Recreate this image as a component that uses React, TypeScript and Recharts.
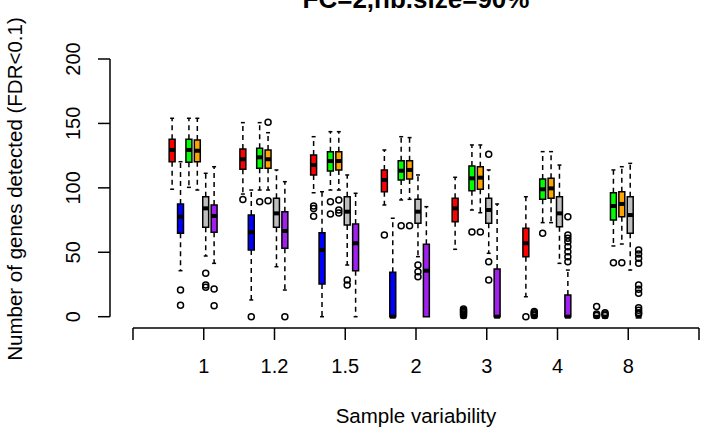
import { ComposedChart, XAxis, YAxis, Scatter, ReferenceArea, ReferenceLine } from 'recharts';

// sample variability levels (x groups)
const groupLabels = ['1', '1.2', '1.5', '2', '3', '4', '8'];
const xTicks = [0, 1, 2, 3, 4, 5, 6, 7, 8];
const yTicks = [0, 50, 100, 150, 200];

// one box per method: [lower whisker, q1, median, q3, upper whisker]
const redBoxes = [
	[98.9, 120.3, 129.4, 137.7, 154],
	[95.2, 114.4, 122.2, 130.2, 150.6],
	[96.2, 110, 117.7, 125.5, 139.7],
	[86.7, 97, 106.1, 113.9, 129.4],
	[52.3, 73.7, 84.1, 91.9, 108.2],
	[15.5, 46.6, 57, 68.6, 93.1],
	[0, 0, 0, 0, 0],
];
const redOutliers = [[], [91], [86, 84, 78], [63.4], [], [0], [8, 2, 1]];

const blueBoxes = [
	[35.7, 64.7, 77.6, 87.5, 120.3],
	[13, 51.8, 65.5, 78.9, 98.3],
	[0, 25.4, 51.8, 65.2, 97],
	[0, 0, 0, 34.5, 76.4],
	[0, 0, 0, 0, 0],
	[0, 0, 0, 0, 0],
	[0, 0, 0, 0, 0],
];
const blueOutliers = [[20.7, 8.8], [0], [], [], [1, 2, 3, 4, 5, 6], [1, 2, 3, 4], [1, 2, 3]];

const greenBoxes = [
	[100.4, 119.8, 129.4, 137.7, 154],
	[98.3, 115.2, 123.7, 130.7, 150.6],
	[98.3, 113.1, 120.8, 128.1, 143.6],
	[90.6, 106.1, 113.3, 121.1, 139.7],
	[82.8, 97.8, 107.4, 117, 133.3],
	[73, 91.1, 98.9, 106.9, 128.1],
	[54.9, 75, 85.9, 96.2, 113.9],
];
const greenOutliers = [[], [89.3], [89.3, 79.7], [70.6], [65.7], [64.7], [41.9]];

const orangeBoxes = [
	[98.3, 120.3, 128.8, 137.2, 154],
	[98.3, 115.2, 122.2, 129.4, 142.8],
	[98.3, 113.9, 120.8, 128.1, 143.6],
	[91.1, 106.9, 113.9, 121.1, 139],
	[80.7, 98.9, 107.9, 116.4, 133.3],
	[73, 91.9, 99.6, 107.4, 128.1],
	[56.4, 77.6, 87.5, 97, 116.4],
];
const orangeOutliers = [[], [150.9, 90], [90.6, 82.8, 80.5], [70.6], [65.7], [], [41.9]];

const grayBoxes = [
	[47.1, 69.4, 84.1, 93.1, 111.3],
	[38.8, 69.4, 80.2, 91.9, 113.9],
	[40.1, 71.2, 81.5, 93.1, 110],
	[46.6, 72.5, 81.5, 91.1, 110],
	[49.2, 72.5, 82.8, 91.9, 113.9],
	[41.4, 69.9, 80.2, 93.1, 117.7],
	[36.2, 64.7, 78.9, 93.1, 119],
];
const grayOutliers = [[33.7, 24.6, 22.8], [], [28.5, 24.6], [40.1, 34.9, 31], [126, 42.7, 28.5], [], []];

const purpleBoxes = [
	[41.4, 65.5, 78.2, 86.7, 116.4],
	[20.7, 53.1, 66.5, 81.5, 104.8],
	[0, 35.7, 57, 71.9, 95.8],
	[0, 0, 35.7, 56.2, 85.4],
	[0, 0, 0, 37, 87.5],
	[0, 0, 0, 16.8, 36.2],
	[0, 0, 0, 0, 0],
];
const purpleOutliers = [
	[21.5, 8.5],
	[0],
	[],
	[],
	[],
	[77.6, 63.4, 60.8, 58.2, 54.3, 50.4, 46.6, 42.7],
	[51.8, 48.7, 45.3, 41.4, 24.6, 21.3, 18.2, 7, 5, 3, 2],
];

const series = [
	{ name: 'red', color: '#FF0000', boxes: redBoxes, outliers: redOutliers },
	{ name: 'blue', color: '#0000FF', boxes: blueBoxes, outliers: blueOutliers },
	{ name: 'green', color: '#00FF00', boxes: greenBoxes, outliers: greenOutliers },
	{ name: 'orange', color: '#FFA500', boxes: orangeBoxes, outliers: orangeOutliers },
	{ name: 'gray', color: '#BEBEBE', boxes: grayBoxes, outliers: grayOutliers },
	{ name: 'purple', color: '#A020F0', boxes: purpleBoxes, outliers: purpleOutliers },
];

const FONT = '"Liberation Sans", Arial, Helvetica, sans-serif';
const X_MIN = -0.325;
const Y_MIN = -8.77;
const GROUP_SHIFT = -0.447;
const BOX_STEP = 0.1187;
const HALF_BOX = 0.042;
const HALF_STAPLE = 0.028;

const boxPos = (g: number, s: number) => g + 1 + GROUP_SHIFT + s * BOX_STEP;

const outlierData = series.map((s, si) =>
	s.outliers.flatMap((vals, g) => vals.map((v) => ({ x: boxPos(g, si), y: v }))),
);

const XTick = (props: any) => {
	const { x, y, payload } = props;
	const idx = payload.value - 1;
	const label = idx >= 0 && idx < groupLabels.length ? groupLabels[idx] : '';
	return (
		<text x={x} y={y + 31} textAnchor="middle" fontSize={20} fontFamily={FONT} fill="#000">
			{label}
		</text>
	);
};

const YTick = (props: any) => {
	const { x, y, payload } = props;
	const tx = x - 16;
	return (
		<text x={tx} y={y} transform={`rotate(-90, ${tx}, ${y})`} textAnchor="middle" fontSize={20} fontFamily={FONT} fill="#000">
			{payload.value}
		</text>
	);
};

const Ring = (props: any) => <circle cx={props.cx} cy={props.cy} r={3} fill="none" stroke="#000" strokeWidth={1.5} />;

function renderBoxes() {
	const els: any[] = [];
	series.forEach((s, si) => {
		s.boxes.forEach(([lo, q1, med, q3, hi], g) => {
			const p = boxPos(g, si);
			const k = `${s.name}-${g}`;
			if (hi > q3) {
				els.push(
					<ReferenceLine key={`${k}-uw`} segment={[{ x: p, y: q3 }, { x: p, y: hi }]} stroke="#000" strokeWidth={1.5} strokeDasharray="5 4" ifOverflow="visible" />,
					<ReferenceLine key={`${k}-us`} segment={[{ x: p - HALF_STAPLE, y: hi }, { x: p + HALF_STAPLE, y: hi }]} stroke="#000" strokeWidth={1.5} ifOverflow="visible" />,
				);
			}
			if (lo < q1) {
				els.push(
					<ReferenceLine key={`${k}-lw`} segment={[{ x: p, y: q1 }, { x: p, y: lo }]} stroke="#000" strokeWidth={1.5} strokeDasharray="5 4" ifOverflow="visible" />,
					<ReferenceLine key={`${k}-ls`} segment={[{ x: p - HALF_STAPLE, y: lo }, { x: p + HALF_STAPLE, y: lo }]} stroke="#000" strokeWidth={1.5} ifOverflow="visible" />,
				);
			}
			if (q3 > q1) {
				els.push(
					<ReferenceArea key={`${k}-box`} x1={p - HALF_BOX} x2={p + HALF_BOX} y1={q1} y2={q3} fill={s.color} fillOpacity={1} stroke="#000" strokeWidth={1.5} ifOverflow="visible" />,
				);
			}
			els.push(
				<ReferenceLine key={`${k}-med`} segment={[{ x: p - HALF_BOX, y: med }, { x: p + HALF_BOX, y: med }]} stroke="#000" strokeWidth={4} ifOverflow="visible" />,
			);
		});
	});
	return els;
}

export default function App() {
	return (
		<div style={{ position: 'absolute', left: 0, top: 0, width: 707, height: 427, background: '#fff' }}>
			<ComposedChart width={707} height={427} margin={{ top: 59, right: 8, bottom: 39, left: 50 }}>
				<XAxis
					type="number"
					dataKey="x"
					domain={[X_MIN, 8]}
					ticks={xTicks}
					interval={0}
					allowDataOverflow
					axisLine={false}
					tickLine={{ stroke: '#000', strokeWidth: 1.5 }}
					tickSize={12}
					tickMargin={2}
					height={60}
					tick={<XTick />}
				/>
				<YAxis
					type="number"
					dataKey="y"
					domain={[Y_MIN, 200]}
					ticks={yTicks}
					interval={0}
					allowDataOverflow
					axisLine={false}
					tickLine={{ stroke: '#000', strokeWidth: 1.5 }}
					tickSize={12}
					tickMargin={2}
					width={60}
					tick={<YTick />}
				/>
				<ReferenceLine segment={[{ x: 0, y: Y_MIN }, { x: 8, y: Y_MIN }]} stroke="#000" strokeWidth={1.5} ifOverflow="visible" />
				<ReferenceLine segment={[{ x: X_MIN, y: 0 }, { x: X_MIN, y: 200 }]} stroke="#000" strokeWidth={1.5} ifOverflow="visible" />
				{renderBoxes()}
				{outlierData.map((pts, i) => (
					<Scatter key={series[i].name} data={pts} dataKey="y" shape={<Ring />} isAnimationActive={false} />
				))}
			</ComposedChart>
			<svg width={707} height={427} style={{ position: 'absolute', left: 0, top: 0, pointerEvents: 'none' }}>
				<text x={416} y={8} textAnchor="middle" fontSize={26} fontWeight="bold" fontFamily={FONT} fill="#000">
					FC=2,nb.size=90%
				</text>
				<text transform="translate(22,189) rotate(-90)" textAnchor="middle" fontSize={20.5} fontFamily={FONT} fill="#000">
					Number of genes detected (FDR&lt;0.1)
				</text>
				<text x={416} y={423} textAnchor="middle" fontSize={20.5} fontFamily={FONT} fill="#000">
					Sample variability
				</text>
			</svg>
		</div>
	);
}
